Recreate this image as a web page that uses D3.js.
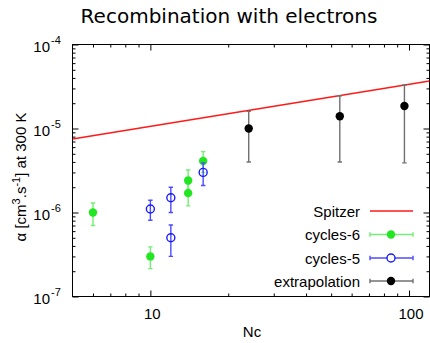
<!DOCTYPE html>
<html>
<head>
<meta charset="utf-8">
<script src="https://cdn.jsdelivr.net/npm/d3@7"></script>
<style>
  html, body { margin: 0; padding: 0; background: #fff; }
  svg { display: block; }
  text { font-family: "Liberation Sans", Arial, Helvetica, sans-serif; fill: #000; }
</style>
</head>
<body>
<svg id="chart" width="430" height="343"></svg>
<script>
// Rate coefficients vs number of carbon atoms
const spitzerNc = [5, 120];
const spitzerAlpha = [7.5e-6, 3.67e-5];

const c6Nc = [6, 10, 14, 14, 16];
const c6Alpha = [1.0e-6, 3.0e-7, 2.4e-6, 1.7e-6, 4.1e-6];
const c6Lo = [0.7e-6, 2.15e-7, 1.9e-6, 1.2e-6, 3.0e-6];
const c6Hi = [1.3e-6, 3.9e-7, 3.2e-6, 2.2e-6, 5.3e-6];

const c5Nc = [10, 12, 12, 16];
const c5Alpha = [1.1e-6, 1.5e-6, 5.0e-7, 3.0e-6];
const c5Lo = [0.81e-6, 1.0e-6, 3.0e-7, 2.1e-6];
const c5Hi = [1.4e-6, 2.0e-6, 7.1e-7, 3.9e-6];

const exNc = [24, 54, 96];
const exAlpha = [1.0e-5, 1.4e-5, 1.85e-5];
const exLo = [4.0e-6, 4.0e-6, 3.9e-6];
const exHi = [1.6e-5, 2.45e-5, 3.3e-5];

const xMajor = [10, 100];
const xMinor = [6, 7, 8, 9, 20, 30, 40, 50, 60, 70, 80, 90];
const yMajor = [1e-7, 1e-6, 1e-5, 1e-4];
const yExp = ["-7", "-6", "-5", "-4"];
const legendLabels = ["Spitzer", "cycles-6", "cycles-5", "extrapolation"];

const colors = {
  red: "#ff1a1a",
  green: "#22e622", greenBar: "#74ee74",
  blue: "#1a1aff", blueBar: "#4d4dff",
  black: "#000000", blackBar: "#707070"
};

const svg = d3.select("#chart");
const L = 72.5, R = 429.5, T = 44.5, B = 296.5;

const x = d3.scaleLog().domain([5, 120]).range([L, R]);
const y = d3.scaleLog().domain([1e-7, 1e-4]).range([B, T]);

const yMinor = [];
[-7, -6, -5].forEach(e => { for (let k = 2; k <= 9; k++) yMinor.push(k * Math.pow(10, e)); });

// Title
svg.append("text")
  .attr("x", 229).attr("y", 23)
  .attr("text-anchor", "middle")
  .style("font-family", "'DejaVu Sans', sans-serif")
  .style("font-size", "20px")
  .text("Recombination with electrons");

// Frame
svg.append("rect")
  .attr("x", L).attr("y", T).attr("width", R - L).attr("height", B - T)
  .attr("fill", "none").attr("stroke", "#000").attr("stroke-width", 1);

function styleAxis(g) {
  g.select(".domain").remove();
  g.selectAll(".tick line").attr("stroke", "#000").attr("stroke-width", 1);
}

// Inward ticks on all four sides
const axes = [
  [d3.axisBottom(x), `translate(0,${B})`],
  [d3.axisTop(x), `translate(0,${T})`]
];
axes.forEach(([ax, tr]) => {
  svg.append("g").attr("transform", tr)
    .call(ax.tickValues(xMajor).tickSize(-6).tickFormat("")).call(styleAxis);
  svg.append("g").attr("transform", tr)
    .call(ax.tickValues(xMinor).tickSize(-3).tickFormat("")).call(styleAxis);
});
[[d3.axisLeft(y), `translate(${L},0)`], [d3.axisRight(y), `translate(${R},0)`]].forEach(([ax, tr]) => {
  svg.append("g").attr("transform", tr)
    .call(ax.tickValues(yMajor).tickSize(-6).tickFormat("")).call(styleAxis);
  svg.append("g").attr("transform", tr)
    .call(ax.tickValues(yMinor).tickSize(-3).tickFormat("")).call(styleAxis);
});

// X tick labels
svg.append("g").selectAll("text").data(xMajor).join("text")
  .attr("x", d => x(d) + 2).attr("y", 319)
  .attr("text-anchor", "middle")
  .style("font-size", "15px")
  .text(d => d3.format("d")(d));

// Y tick labels with exponents
const yl = svg.append("g").selectAll("text").data(yMajor).join("text")
  .attr("x", 50).attr("y", d => y(d) + 7)
  .attr("text-anchor", "end")
  .style("font-size", "15px")
  .text("10");
svg.append("g").selectAll("text").data(yMajor).join("text")
  .attr("x", 51).attr("y", d => y(d) - 1)
  .style("font-size", "11px")
  .text((d, i) => yExp[i]);

// Axis titles
svg.append("text")
  .attr("x", 252).attr("y", 337)
  .attr("text-anchor", "middle")
  .style("font-size", "15px")
  .text("Nc");

const ylab = svg.append("text")
  .attr("transform", "translate(26,177) rotate(-90)")
  .attr("text-anchor", "middle")
  .style("font-size", "15px");
ylab.append("tspan").text("\u03B1 [cm");
ylab.append("tspan").attr("dy", -6).style("font-size", "11px").text("3");
ylab.append("tspan").attr("dy", 6).text(".s");
ylab.append("tspan").attr("dy", -6).style("font-size", "11px").text("-1");
ylab.append("tspan").attr("dy", 6).text("] at 300 K");

// Plot clip
svg.append("defs").append("clipPath").attr("id", "plot")
  .append("rect").attr("x", L).attr("y", T).attr("width", R - L).attr("height", B - T);
const plot = svg.append("g").attr("clip-path", "url(#plot)");

// Spitzer line
const spitzer = spitzerNc.map((n, i) => [n, spitzerAlpha[i]]);
plot.append("path")
  .datum(spitzer)
  .attr("d", d3.line().x(d => x(d[0])).y(d => y(d[1])))
  .attr("fill", "none").attr("stroke", colors.red).attr("stroke-width", 1.6);

function series(nc, a, lo, hi, barColor, drawPoint) {
  const data = nc.map((n, i) => ({ n, a: a[i], lo: lo[i], hi: hi[i] }));
  const g = plot.append("g");
  const bars = g.append("g").attr("stroke", barColor).attr("stroke-width", 1.4);
  bars.selectAll("line.v").data(data).join("line").attr("class", "v")
    .attr("x1", d => x(d.n)).attr("x2", d => x(d.n))
    .attr("y1", d => y(d.lo)).attr("y2", d => y(d.hi));
  bars.selectAll("line.lo").data(data).join("line").attr("class", "lo")
    .attr("x1", d => x(d.n) - 2.2).attr("x2", d => x(d.n) + 2.2)
    .attr("y1", d => y(d.lo)).attr("y2", d => y(d.lo));
  bars.selectAll("line.hi").data(data).join("line").attr("class", "hi")
    .attr("x1", d => x(d.n) - 2.2).attr("x2", d => x(d.n) + 2.2)
    .attr("y1", d => y(d.hi)).attr("y2", d => y(d.hi));
  const pts = g.selectAll("circle").data(data).join("circle")
    .attr("cx", d => x(d.n)).attr("cy", d => y(d.a));
  drawPoint(pts);
}

series(c6Nc, c6Alpha, c6Lo, c6Hi, colors.greenBar,
  s => s.attr("r", 4.2).attr("fill", colors.green));
series(c5Nc, c5Alpha, c5Lo, c5Hi, colors.blueBar,
  s => s.attr("r", 4).attr("fill", "none").attr("stroke", colors.blue).attr("stroke-width", 1.4));
series(exNc, exAlpha, exLo, exHi, colors.blackBar,
  s => s.attr("r", 4.2).attr("fill", colors.black));

// Legend
const legendY = [211, 234.5, 258, 281];
const lg = svg.append("g");
lg.selectAll("text").data(legendLabels).join("text")
  .attr("x", 360).attr("y", (d, i) => legendY[i] + 5.5)
  .attr("text-anchor", "end")
  .style("font-size", "15px")
  .text(d => d);

const x0 = 370, x1 = 413, xm = 391;
lg.append("line").attr("x1", x0).attr("x2", x1).attr("y1", legendY[0]).attr("y2", legendY[0])
  .attr("stroke", colors.red).attr("stroke-width", 1.6);

const legendSeries = [
  { c: colors.greenBar, draw: g => g.attr("r", 4.2).attr("fill", colors.green) },
  { c: colors.blueBar, draw: g => g.attr("r", 4).attr("fill", "#fff").attr("stroke", colors.blue).attr("stroke-width", 1.4) },
  { c: colors.blackBar, draw: g => g.attr("r", 4.2).attr("fill", colors.black) }
];
legendSeries.forEach((s, i) => {
  const yy = legendY[i + 1];
  const g = lg.append("g").attr("stroke", s.c).attr("stroke-width", 1.4);
  g.append("line").attr("x1", x0).attr("x2", x1).attr("y1", yy).attr("y2", yy);
  g.append("line").attr("x1", x0).attr("x2", x0).attr("y1", yy - 2.2).attr("y2", yy + 2.2);
  g.append("line").attr("x1", x1).attr("x2", x1).attr("y1", yy - 2.2).attr("y2", yy + 2.2);
  s.draw(lg.append("circle").attr("cx", xm).attr("cy", yy));
});
</script>
</body>
</html>
